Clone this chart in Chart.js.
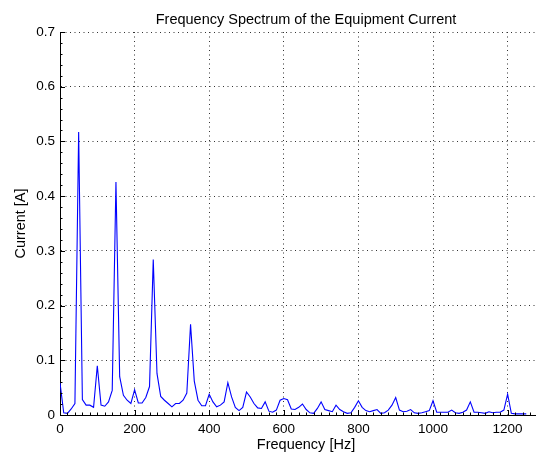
<!DOCTYPE html>
<html>
<head>
<meta charset="utf-8">
<script src="https://cdn.jsdelivr.net/npm/chart.js@4"></script>
<style>
  html, body { margin: 0; padding: 0; background: #fff; overflow: hidden; }
</style>
</head>
<body>
<canvas id="chart" width="612" height="456"></canvas>
<script>
// frequency bins of the spectrum (Hz)
const freqs = [
  0, 10, 20, 30, 40, 50, 60, 70, 80, 90,
  100, 110, 120, 130, 140, 150, 160, 170, 180, 190,
  200, 210, 220, 230, 240, 250, 260, 270, 280, 290,
  300, 310, 320, 330, 340, 350, 360, 370, 380, 390,
  400, 410, 420, 430, 440, 450, 460, 470, 480, 490,
  500, 510, 520, 530, 540, 550, 560, 570, 580, 590,
  600, 610, 620, 630, 640, 650, 660, 670, 680, 690,
  700, 710, 720, 730, 740, 750, 760, 770, 780, 790,
  800, 810, 820, 830, 840, 850, 860, 870, 880, 890,
  900, 910, 920, 930, 940, 950, 960, 970, 980, 990,
  1000, 1010, 1020, 1030, 1040, 1050, 1060, 1070, 1080, 1090,
  1100, 1110, 1120, 1130, 1140, 1150, 1160, 1170, 1180, 1190,
  1200, 1210, 1220, 1230, 1240, 1250
];

// current amplitude (A)
const current = [
  0.059, 0.004, 0.003, 0.011, 0.021, 0.517, 0.028, 0.018, 0.018, 0.014,
  0.090, 0.018, 0.016, 0.024, 0.045, 0.426, 0.070, 0.036, 0.027, 0.021,
  0.046, 0.022, 0.022, 0.032, 0.052, 0.284, 0.076, 0.034, 0.027, 0.021,
  0.015, 0.021, 0.021, 0.027, 0.040, 0.166, 0.062, 0.027, 0.017, 0.017,
  0.038, 0.024, 0.015, 0.018, 0.024, 0.059, 0.033, 0.014, 0.008, 0.014,
  0.042, 0.033, 0.021, 0.013, 0.012, 0.024, 0.007, 0.005, 0.009, 0.027,
  0.030, 0.028, 0.011, 0.010, 0.014, 0.020, 0.010, 0.004, 0.003, 0.012,
  0.024, 0.010, 0.008, 0.006, 0.018, 0.010, 0.006, 0.003, 0.004, 0.014,
  0.026, 0.014, 0.008, 0.006, 0.008, 0.010, 0.003, 0.004, 0.009, 0.018,
  0.032, 0.009, 0.006, 0.007, 0.010, 0.004, 0.003, 0.004, 0.006, 0.008,
  0.026, 0.005, 0.005, 0.005, 0.005, 0.009, 0.004, 0.003, 0.005, 0.009,
  0.024, 0.005, 0.005, 0.004, 0.003, 0.006, 0.004, 0.005, 0.005, 0.009,
  0.038, 0.003, 0.002, 0.002, 0.002, 0.002
];

const chartTitle = 'Frequency Spectrum of the Equipment Current';
const xMax = 1319;
const xStep = 200, xMinorStep = 20;
const yMax = 0.7;
const yStep = 0.1, yMinorStep = 0.02;

const fontFamily = "'Liberation Sans', Arial, sans-serif";

// ticks pointing inwards + title centred over the axes, like the original figure
const matlabLook = {
  id: 'matlabLook',
  afterDatasetsDraw(chart) {
    const ctx = chart.ctx;
    const xs = chart.scales.x, ys = chart.scales.y;
    const area = chart.chartArea;
    ctx.save();
    ctx.strokeStyle = '#000';
    ctx.lineWidth = 1;
    ctx.beginPath();
    for (let i = 0; i * xMinorStep <= xMax; i++) {
      const v = i * xMinorStep;
      const px = Math.round(xs.getPixelForValue(v)) + 0.5;
      const len = (v % xStep === 0) ? 5 : 2.5;
      ctx.moveTo(px, area.bottom);
      ctx.lineTo(px, area.bottom - len);
    }
    for (let i = 0; i * yMinorStep <= yMax + 1e-9; i++) {
      const v = i * yMinorStep;
      const py = Math.round(ys.getPixelForValue(v)) + 0.5;
      const len = (i % 5 === 0) ? 5 : 2.5;
      ctx.moveTo(area.left, py);
      ctx.lineTo(area.left + len, py);
    }
    ctx.stroke();

    ctx.fillStyle = '#000';
    ctx.font = '14.5px ' + fontFamily;
    ctx.textAlign = 'center';
    ctx.textBaseline = 'alphabetic';
    ctx.fillText(chartTitle, (area.left + area.right) / 2, 23.5);
    ctx.restore();
  }
};

const points = freqs.map((f, i) => ({ x: f, y: current[i] }));

new Chart(document.getElementById('chart'), {
  type: 'line',
  data: {
    datasets: [{
      data: points,
      borderColor: '#0000ff',
      borderWidth: 1.1,
      pointRadius: 0,
      tension: 0,
      fill: false
    }]
  },
  options: {
    responsive: false,
    animation: false,
    layout: { padding: { left: 0, right: 60, top: 32, bottom: 0 } },
    plugins: {
      legend: { display: false },
      tooltip: { enabled: false },
      title: { display: false }
    },
    scales: {
      x: {
        type: 'linear',
        min: 0,
        max: xMax,
        afterFit(s) { s.height = 41; },
        ticks: {
          stepSize: xStep,
          includeBounds: false,
          color: '#000',
          padding: 6,
          maxRotation: 0,
          font: { family: fontFamily, size: 13.5 },
          callback: v => String(v)
        },
        grid: { color: '#333', lineWidth: 1, drawTicks: false },
        border: { display: true, color: '#000', width: 1, dash: [1, 3.5] },
        title: {
          display: true,
          text: 'Frequency [Hz]',
          color: '#000',
          font: { family: fontFamily, size: 14.5 },
          padding: { top: 0, bottom: 2 }
        }
      },
      y: {
        min: 0,
        max: yMax,
        afterFit(s) { s.width = 60; },
        ticks: {
          stepSize: yStep,
          color: '#000',
          padding: 5,
          font: { family: fontFamily, size: 13.5 },
          callback: v => String(Math.round(v * 10) / 10)
        },
        grid: { color: '#333', lineWidth: 1, drawTicks: false },
        border: { display: true, color: '#000', width: 1, dash: [1, 3.5] },
        title: {
          display: true,
          text: 'Current [A]',
          color: '#000',
          font: { family: fontFamily, size: 14.5 },
          padding: { top: 12, bottom: 0 }
        }
      }
    }
  },
  plugins: [matlabLook]
});
</script>
</body>
</html>
